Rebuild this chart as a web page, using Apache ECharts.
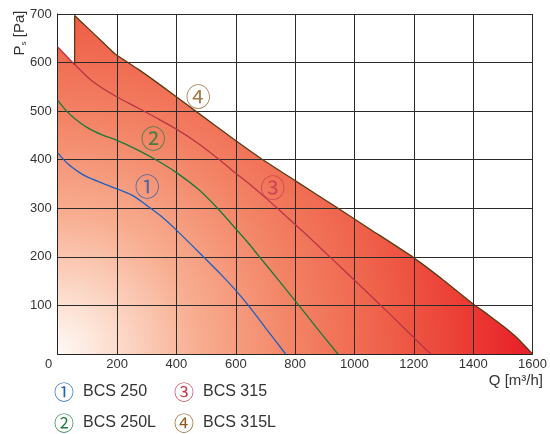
<!DOCTYPE html>
<html><head><meta charset="utf-8">
<script src="https://cdn.jsdelivr.net/npm/echarts@6/dist/echarts.min.js"></script>
<style>html,body{margin:0;padding:0;background:#fff}#c{width:550px;height:434px}</style>
</head><body><div id="c"></div>
<script>
// Q [m3/h], Ps [Pa]
const curve1 = [[0,414],[35,391],[70,375],[101,364],[150,352],[200,340],[250,327],[300,306],[350,283],[400,255],[493,199],[550,164],[600,131],[641,101],[700,54],[768,0]];
const curve2 = [[0,522],[30,500],[57,485],[100,466],[150,451],[200,440],[260,423],[322,403],[399,374],[476,338],[537,301],[597,260],[640,230],[680,200],[740,155],[801,109],[870,56],[944,0]];
const curve3 = [[0,632],[30,613],[57,596],[118,561],[200,529],[272,506],[330,487],[400,463],[470,435],[545,400],[600,372],[650,348],[696,324],[740,300],[830,250],[917,200],[1000,152],[1087,101],[1150,64],[1231,15],[1258,0]];
const curve4 = [[57,596],[57,697],[100,672],[150,643],[195,617],[272,586],[350,552],[465,500],[603,438],[691,400],[800,357],[950,298],[1050,258],[1198,199],[1300,152],[1400,103],[1450,81],[1506,55],[1550,32],[1600,0]];
const curveMarks = [
  {name:'BCS 250', num:'①', pos:[302,344]},
  {name:'BCS 250L', num:'②', pos:[322,443]},
  {name:'BCS 315', num:'③', pos:[725,342]},
  {name:'BCS 315L', num:'④', pos:[474,530]}
];
const markColors = ['#1f5db0','#1d7b3b','#c23b4b','#8b5a1e'];
const lineColors = ['#1f5fbf','#1a7a35','#b83545','#5c3a12'];
const xMin = 0, xMax = 1600, xStep = 200;
const yMin = 0, yMax = 700, yStep = 100;

const TF = "'Liberation Sans', Arial, sans-serif";
const DF = "'Noto Sans CJK JP', 'DejaVu Sans', sans-serif";

const fillGrad = {type:'radial', x:57.7, y:354, r:470, global:true, colorStops:[
  {offset:0, color:'#fffaf7'},
  {offset:0.1, color:'#fde2d4'},
  {offset:0.3, color:'#f8ad90'},
  {offset:0.5, color:'#f38466'},
  {offset:0.7, color:'#ef6049'},
  {offset:0.87, color:'#eb3c34'},
  {offset:1, color:'#e8202a'}
]};

const chart = echarts.init(document.getElementById('c'), null, {renderer:'canvas'});

const fillSeries = [curve4, curve3].map((d,i) => ({
  type:'line', data:d, symbol:'none', smooth: i===0 ? 0.15 : 0.3, z:1,
  lineStyle:{width:0, opacity:0}, areaStyle:{color:fillGrad, opacity:1}, silent:true
}));
const lineSeries = [curve1, curve2, curve3, curve4].map((d,i) => ({
  type:'line', data:d, symbol:'none', smooth: i===3 ? 0.15 : 0.3, z:3,
  lineStyle:{width: 1.3, color:lineColors[i]}, silent:true
}));
const labelSeries = {
  type:'scatter', z:4, symbolSize:1, itemStyle:{color:'rgba(0,0,0,0)'}, silent:true,
  data: curveMarks.map((m,i) => ({value:m.pos, label:{show:true, position:'inside', formatter:m.num, color:markColors[i], fontSize:25, fontFamily:DF}}))
};

const legendItems = [
  {i:0, x:54, y:392}, {i:2, x:174, y:392},
  {i:1, x:54, y:423}, {i:3, x:174, y:423}
];
const graphics = [];
legendItems.forEach(it => {
  const m = curveMarks[it.i];
  graphics.push({type:'text', x:it.x, y:it.y, style:{text:m.num, fill:markColors[it.i], font:'20px ' + DF, verticalAlign:'middle'}});
  graphics.push({type:'text', x:it.x+29, y:it.y, style:{text:m.name, fill:'#333', font:'16px ' + TF, verticalAlign:'middle'}});
});
graphics.push({type:'text', right:7, top:373, style:{text:'Q [m³/h]', fill:'#333', font:'15px ' + TF}});
graphics.push({type:'text', x:20, y:33, rotation:Math.PI/2, style:{
  text:'{p|P}{s|s}{p| [Pa]}', align:'center', verticalAlign:'middle',
  rich:{p:{fontSize:15, fontFamily:TF, fill:'#333', lineHeight:16, verticalAlign:'middle'},
        s:{fontSize:8, fontFamily:TF, fill:'#333', lineHeight:16, verticalAlign:'bottom', padding:[6,0,0,0]}}
}});

chart.setOption({
  animation:false,
  backgroundColor:'#fff',
  grid:{left:57.7, right:8.3, top:14, bottom:80, containLabel:false},
  xAxis:{type:'value', min:xMin, max:xMax, interval:xStep, z:2,
    axisLine:{show:true, lineStyle:{color:'#222', width:1}}, axisTick:{show:false},
    splitLine:{show:true, lineStyle:{color:'#2b2b2b', width:1}},
    axisLabel:{color:'#333', fontSize:13, fontFamily:TF, margin:4,
      formatter: v => v === 0 ? '{z|0}' : String(v),
      rich:{z:{fontSize:13, fontFamily:TF, color:'#333', padding:[0,18,0,0]}}}},
  yAxis:{type:'value', min:yMin, max:yMax, interval:yStep, z:2,
    axisLine:{show:true, lineStyle:{color:'#222', width:1}}, axisTick:{show:false},
    splitLine:{show:true, lineStyle:{color:'#2b2b2b', width:1}},
    axisLabel:{color:'#333', fontSize:13, fontFamily:TF, margin:6, showMinLabel:false}},
  series:[...fillSeries, ...lineSeries, labelSeries],
  graphic:graphics
});
</script></body></html>
